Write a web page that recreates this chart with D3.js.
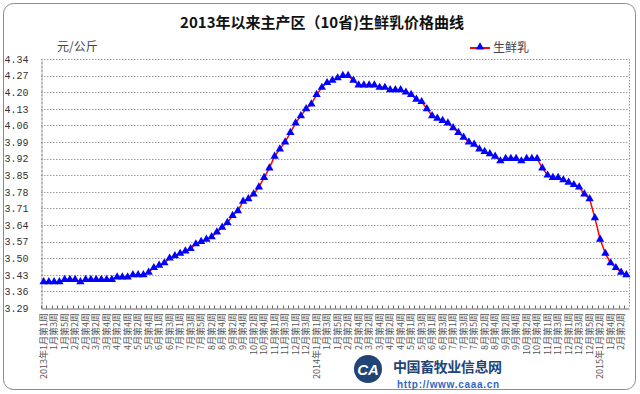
<!DOCTYPE html>
<html>
<head>
<meta charset="utf-8">
<script src="https://cdn.jsdelivr.net/npm/d3@7"></script>
<style>
  html, body { margin: 0; padding: 0; background: #fff; }
  svg { display: block; }
</style>
</head>
<body>
<div id="chart"></div>
<script>
// weeks per month, by year
var weeks2013 = [5, 4, 4, 4, 5, 4, 5, 4, 4, 5, 4, 4];
var weeks2014 = [5, 4, 4, 5, 4, 4, 5, 4, 4, 5, 4, 5];
var weeks2015 = [4, 3];

// 生鲜乳 price, yuan/kg, one value per week
var price2013 = [3.40, 3.40, 3.40, 3.40, 3.41, 3.41, 3.41, 3.40, 3.41, 3.41, 3.41, 3.41, 3.41, 3.41,
    3.42, 3.42, 3.42, 3.43, 3.43, 3.43, 3.44, 3.46, 3.47, 3.48, 3.50, 3.51, 3.52, 3.53, 3.54, 3.56,
    3.57, 3.58, 3.59, 3.61, 3.63, 3.65, 3.68, 3.70, 3.74, 3.75, 3.77, 3.80, 3.84, 3.88, 3.93, 3.96,
    3.99, 4.03, 4.07, 4.10, 4.13, 4.15];
var price2014 = [4.19, 4.22, 4.24, 4.25, 4.26, 4.27, 4.27, 4.25, 4.23, 4.23, 4.23, 4.23, 4.22, 4.22,
    4.21, 4.21, 4.21, 4.20, 4.19, 4.17, 4.16, 4.13, 4.10, 4.09, 4.08, 4.07, 4.05, 4.03, 4.01, 3.99,
    3.98, 3.96, 3.95, 3.94, 3.93, 3.91, 3.92, 3.92, 3.92, 3.91, 3.92, 3.92, 3.92, 3.88, 3.85, 3.84,
    3.84, 3.83, 3.82, 3.81, 3.80, 3.77, 3.75];
var price2015 = [3.67, 3.58, 3.52, 3.48, 3.46, 3.44, 3.43];

var yTicks = [3.29, 3.36, 3.43, 3.50, 3.57, 3.64, 3.71, 3.78, 3.85, 3.92, 3.99, 4.06, 4.13, 4.20, 4.27, 4.34];

var title = "2013年以来主产区（10省)生鲜乳价格曲线";
var unit = "元/公斤";
var seriesName = "生鲜乳";

// build week categories
var cats = [];
[[2013, weeks2013], [2014, weeks2014], [2015, weeks2015]].forEach(function (yw) {
    yw[1].forEach(function (n, m) {
        for (var w = 1; w <= n; w++) {
            cats.push({ year: yw[0], name: (m + 1) + "月第" + w + "周" });
        }
    });
});
var values = price2013.concat(price2014, price2015);
var data = cats.map(function (c, i) { return { key: i, cat: c, v: values[i] }; });

var W = 640, H = 394;
var i1 = 41, i2 = 629, j1 = 59, j2 = 308;

var svg = d3.select("#chart").append("svg").attr("width", W).attr("height", H);

svg.append("rect")
    .attr("x", 3.5).attr("y", 3.5).attr("width", 632).attr("height", 386)
    .attr("rx", 10).attr("fill", "#fff").attr("stroke", "#8a8a8a");

var x = d3.scaleBand().domain(data.map(function (d) { return d.key; })).range([i1, i2]);
var y = d3.scaleLinear().domain([3.29, 4.34]).range([j2, j1]);
var cx = function (k) { return x(k) + x.bandwidth() / 2; };

// grid lines
svg.append("g").selectAll("line").data(yTicks.slice(1)).enter().append("line")
    .attr("x1", i1).attr("x2", i2)
    .attr("y1", function (d) { return Math.round(y(d)) + 0.5; })
    .attr("y2", function (d) { return Math.round(y(d)) + 0.5; })
    .attr("stroke", "#9a9a9a").attr("stroke-dasharray", "1.5,1.5");

// right border
svg.append("line").attr("x1", i2 + 0.5).attr("x2", i2 + 0.5).attr("y1", j1).attr("y2", j2)
    .attr("stroke", "#9a9a9a").attr("stroke-dasharray", "1.5,1.5");

// y axis
var axisVertical = d3.axisLeft(y).tickValues(yTicks).tickSize(0).tickPadding(13)
    .tickFormat(d3.format(".2f"));
var gy = svg.append("g").attr("transform", "translate(" + (i1 + 0.5) + ",0)").call(axisVertical);
gy.select(".domain").attr("stroke", "#777").attr("stroke-dasharray", "3,1");
gy.selectAll("text").attr("font-family", "Liberation Mono, monospace").attr("font-size", 10)
    .attr("fill", "#333");

// x axis
var axisHorizontal = d3.axisBottom(x).tickSize(0).tickFormat("");
var gx = svg.append("g").attr("transform", "translate(0," + (j2 + 0.5) + ")").call(axisHorizontal);
gx.select(".domain").attr("stroke", "#666");
gx.selectAll(".tick").remove();
gx.append("g").selectAll("line").data(data).enter().append("line")
    .attr("x1", function (d) { return Math.round(x(d.key)) + 0.5; })
    .attr("x2", function (d) { return Math.round(x(d.key)) + 0.5; })
    .attr("y1", 0).attr("y2", -3).attr("stroke", "#666");

var seenYear = {};
var labelled = data.filter(function (d, i) { return i % 2 === 0; }).map(function (d) {
    var t = d.cat.name;
    if (!seenYear[d.cat.year]) { seenYear[d.cat.year] = true; t = d.cat.year + "年" + t; }
    return { key: d.key, text: t };
});
svg.append("g").selectAll("text").data(labelled).enter().append("text")
    .attr("transform", function (d) { return "translate(" + (cx(d.key) + 3) + "," + (j2 + 5) + ") rotate(-90)"; })
    .attr("text-anchor", "end")
    .attr("font-family", "Noto Sans CJK SC, sans-serif").attr("font-size", 9)
    .attr("fill", "#555")
    .text(function (d) { return d.text; });

// series
var line = d3.line().x(function (d) { return cx(d.key); }).y(function (d) { return y(d.v); });
svg.append("path").attr("d", line(data)).attr("fill", "none")
    .attr("stroke", "#ff0000").attr("stroke-width", 1.5);
var tri = d3.symbol().type(d3.symbolTriangle).size(30);
svg.append("g").selectAll("path").data(data).enter().append("path")
    .attr("transform", function (d) { return "translate(" + cx(d.key) + "," + y(d.v) + ")"; })
    .attr("d", tri).attr("fill", "#0000ff");

// title, unit, legend
svg.append("text").attr("x", 322).attr("y", 28).attr("text-anchor", "middle")
    .attr("font-family", "Noto Sans CJK SC, sans-serif").attr("font-size", 15).attr("font-weight", "bold")
    .attr("fill", "#111").text(title);
svg.append("text").attr("x", 57).attr("y", 51)
    .attr("font-family", "Noto Sans CJK SC, sans-serif").attr("font-size", 12)
    .attr("fill", "#444").text(unit);
var lg = svg.append("g").attr("transform", "translate(470,48)");
lg.append("line").attr("x1", 0).attr("x2", 20).attr("y1", 0).attr("y2", 0)
    .attr("stroke", "#ff0000").attr("stroke-width", 2);
lg.append("path").attr("transform", "translate(10,-1)").attr("d", tri).attr("fill", "#0000ff");
lg.append("text").attr("x", 23).attr("y", 4)
    .attr("font-family", "Noto Sans CJK SC, sans-serif").attr("font-size", 12)
    .attr("fill", "#444").text(seriesName);

// site watermark
var wm = svg.append("g").attr("opacity", 0.95);
wm.append("circle").attr("cx", 368).attr("cy", 369).attr("r", 14).attr("fill", "#143a6e");
wm.append("text").attr("x", 368).attr("y", 375).attr("text-anchor", "middle")
    .attr("font-family", "Liberation Sans, sans-serif").attr("font-size", 15).attr("font-weight", "bold")
    .attr("font-style", "italic").attr("fill", "#fff").text("CA");
wm.append("text").attr("x", 393).attr("y", 372).attr("textLength", 109)
    .attr("font-family", "Noto Sans CJK SC, sans-serif").attr("font-size", 14).attr("font-weight", "bold")
    .attr("fill", "#143a6e").text("中国畜牧业信息网");
wm.append("text").attr("x", 397).attr("y", 388).attr("textLength", 102)
    .attr("font-family", "Liberation Sans, sans-serif").attr("font-size", 10).attr("font-weight", "bold")
    .attr("fill", "#1f5fbf").text("http://www.caaa.cn");
</script>
</body>
</html>
